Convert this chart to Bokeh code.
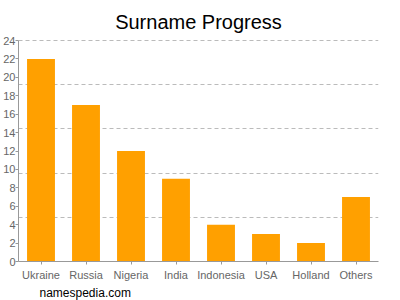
from bokeh.plotting import figure
from bokeh.models import FixedTicker, Range1d, FactorRange, Title, Label, ColumnDataSource
from bokeh.embed import file_html
from bokeh.resources import INLINE

categories = ["Ukraine", "Russia", "Nigeria", "India", "Indonesia", "USA", "Holland", "Others"]
values = [22, 17, 12, 9, 4, 3, 2, 7]
y_ticks = list(range(0, 25, 2))
grid_lines = [4.8, 9.6, 14.4, 19.2, 24]
y_max = 24

src = ColumnDataSource(dict(cat=categories, val=values))

# frame spans the full height above the x axis; value 24 sits 40px below the top
frame_h = 261
y_end = y_max * frame_h / (frame_h - 40)

p = figure(width=400, height=300, title=None, x_range=FactorRange(*categories, range_padding=0),
           y_range=Range1d(0, y_end), output_backend="svg", toolbar_location=None,
           min_border_left=17, min_border_right=22, min_border_top=0, min_border_bottom=39)
p.outline_line_color = None
p.background_fill_color = "white"

p.vbar(x="cat", top="val", width=0.62, source=src, fill_color="#FFA000", line_color=None)

# Label screen coordinates are relative to the plot frame's bottom-left corner
title = Label(x=180, y=frame_h - 21, x_units="screen", y_units="screen", text="Surname Progress",
              text_font="Liberation Sans", text_font_size="20px", text_color="#000000",
              text_align="center", text_baseline="alphabetic")
p.add_layout(title)

footer = Title(text="namespedia.com", align="left", offset=21, standoff=0,
               text_font="Liberation Sans", text_font_size="12px",
               text_font_style="normal", text_color="#000000")
p.add_layout(footer, "below")

p.xgrid.grid_line_color = None
p.ygrid.ticker = FixedTicker(ticks=grid_lines)
p.ygrid.grid_line_color = "#bbbbbb"
p.ygrid.grid_line_dash = "4 3"

p.yaxis.ticker = FixedTicker(ticks=y_ticks)
p.yaxis.bounds = (0, y_max)
for ax in (p.xaxis, p.yaxis):
    ax.axis_line_color = "#999999"
    ax.major_tick_line_color = "#999999"
    ax.major_tick_in = 0
    ax.major_tick_out = 3
    ax.minor_tick_line_color = None
    ax.major_label_text_font = "Liberation Sans"
    ax.major_label_text_font_size = "11px"
    ax.major_label_text_color = "#666666"
p.yaxis.major_label_standoff = 0
p.xaxis.major_label_standoff = 4

open("out.html", "w").write(file_html(p, INLINE))
